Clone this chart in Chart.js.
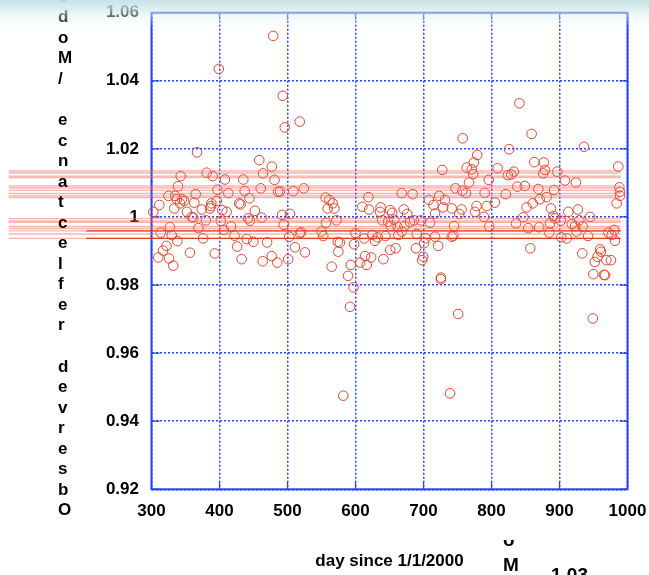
<!DOCTYPE html>
<html>
<head>
<meta charset="utf-8">
<script src="https://cdn.jsdelivr.net/npm/chart.js@4.4.1/dist/chart.umd.min.js"></script>
<style>
  html, body { margin: 0; padding: 0; background: #fff; }
  #wrap { position: relative; width: 649px; height: 575px; overflow: hidden;
          font-family: "Liberation Sans", Arial, sans-serif; font-weight: bold; color: #000; }
  #ratioChart { position: absolute; left: 0; top: 0; }
  #yTitle { position: absolute; left: 58px; top: -13.3px; font-size: 17px; line-height: 20.54px; white-space: pre; }
  #nextTitle { position: absolute; left: 503px; top: 540px; width: 30px; height: 40px; overflow: hidden; }
  #nextTitle div { position: absolute; left: 0; top: -12.8px; font-size: 19px; line-height: 25px; white-space: pre; }
  #nextTick { position: absolute; left: 540px; top: 565.3px; width: 48px; text-align: right; font-size: 19px; line-height: 20px; }
  #topShade { position: absolute; left: 0; top: 0; width: 649px; height: 28px; pointer-events: none;
              background: linear-gradient(to bottom, rgba(196,226,228,0.95) 0px, rgba(205,232,233,0.75) 8px,
                                          rgba(225,241,242,0.45) 16px, rgba(255,255,255,0) 28px); }
</style>
</head>
<body>
<div id="wrap">
  <canvas id="ratioChart" width="649" height="575"></canvas>
  <div id="yTitle"></div>
  <div id="nextTitle"><div></div></div>
  <div id="nextTick"></div>
  <div id="topShade"></div>
</div>
<script>
// axis ticks
const xTicks = [300, 400, 500, 600, 700, 800, 900, 1000];
const xTickLabels = ["300", "400", "500", "600", "700", "800", "900", "1000"];
const yTicks = [0.92, 0.94, 0.96, 0.98, 1.00, 1.02, 1.04, 1.06];
const yTickLabels = ["0.92", "0.94", "0.96", "0.98", "1", "1.02", "1.04", "1.06"];

const xTitle = "day since 1/1/2000";
const yTitleLetters = "edoM/ ecnatcelfer devresbO".split("");
const nextTitleLetters = ["o", "M"];
const nextTickLabel = "1.03";

const days = [
  367, 381, 390, 408, 435, 343, 339, 397, 413, 437, 365, 325, 334.6, 337, 345, 348, 342, 363, 396, 429,
  431, 311.5, 388, 387.5, 333.5, 374, 386, 352, 404, 410.5, 302.7, 359, 361.5, 380, 402, 327, 369, 406.6, 417, 313.5,
  329.7, 376, 422, 338, 322, 317, 310, 326, 332, 356.6, 393, 426, 432.6,
  496, 518, 458.5, 477, 464, 481, 460.6, 486, 489, 508.5, 524, 444, 556, 561.5, 566.5, 559,
  569, 452, 442, 444.8, 462, 492, 503.7, 494.5, 556.6, 572, 518, 520, 550, 552.6, 502.6, 440, 449.7, 470, 511, 525.7,
  476.7, 463.5, 485, 501, 565, 574.7, 574, 479, 399, 493,
  619, 668, 684, 708, 610, 620, 637, 636, 651, 654, 671, 676, 639.5, 648, 657, 686, 696, 709.6, 680, 652,
  662, 672, 600, 624.7, 632.6, 644, 663, 668, 690, 628.7, 613, 703, 577, 598, 651, 659, 689, 701, 623, 614,
  607, 616.5, 641, 699.6, 698, 593, 589, 597, 592, 714.6, 582,
  757.6, 826, 859, 779, 774, 763.5, 771, 773, 727.6, 809, 824, 829, 833, 767, 796, 838, 849, 747, 757, 762.5,
  790, 821, 723, 731.6, 805, 729, 741.5, 756, 778, 793, 775.7, 752.6, 717, 789, 851.6, 846.8, 836, 745, 796.8, 854,
  717, 741.5, 744, 721.6, 857, 725.6, 725.6, 751, 841, 739,
  936, 863, 877, 878.7, 876, 896.7, 986.5, 908, 924, 869, 892, 988, 989, 989, 984, 860.6, 871, 881, 887.5, 913,
  927, 891, 893.4, 901.8, 929, 945, 886, 918, 923, 934, 870, 885, 925, 942, 971.8, 980.6, 976.7, 981.6, 902.6, 910.6,
  933.5, 959.6, 961, 956, 952, 969, 975.7, 949.7, 965.4, 967, 949
];
const ratios = [
  1.019, 1.013, 1.012, 1.011, 1.011, 1.012, 1.009, 1.008, 1.007, 1.0076, 1.0067, 1.0062, 1.0062, 1.0052, 1.0052, 1.0047, 1.004, 1.0042, 1.0047, 1.004,
  1.0037, 1.0035, 1.004, 1.0032, 1.0025, 1.0022, 1.0025, 1.0015, 1.002, 1.0015, 1.0015, 1.0, 0.9998, 0.999, 0.9988, 0.997, 0.9967, 0.9962, 0.9972, 0.9954,
  0.9947, 0.9937, 0.9945, 0.9929, 0.9915, 0.9901, 0.9881, 0.9878, 0.9857, 0.9895, 0.9893, 0.9913, 0.9876,
  1.0263, 1.028, 1.0167, 1.0148, 1.0128, 1.0109, 1.0084, 1.0074, 1.0075, 1.0076, 1.0084, 1.0055, 1.0057, 1.005, 1.004, 1.0025,
  1.0025, 1.0018, 0.9996, 0.9989, 0.9998, 1.0006, 1.0009, 0.9977, 0.9983, 0.999, 0.9952, 0.9955, 0.9957, 0.9944, 0.9942, 0.9935, 0.9927, 0.9925, 0.9911, 0.9896,
  0.9885, 0.987, 0.9866, 0.9876, 0.9854, 0.9898, 0.9927, 1.0532, 1.0435, 1.0356,
  1.0058, 1.007, 1.0067, 1.005, 1.003, 1.0022, 1.0028, 1.0015, 1.002, 1.0012, 1.0022, 1.0009, 0.999, 0.9986, 0.9992, 0.999, 0.999, 0.9983, 0.9985, 0.9973,
  0.997, 0.9973, 0.9953, 0.9947, 0.994, 0.9944, 0.9947, 0.9957, 0.995, 0.993, 0.9937, 0.9937, 0.9924, 0.992, 0.9903, 0.9908, 0.9908, 0.9923, 0.9881, 0.9885,
  0.9866, 0.9859, 0.9876, 0.9883, 0.9873, 0.9859, 0.9827, 0.9793, 0.9736, 1.0035, 0.9475,
  1.0231, 1.0199, 1.0244, 1.0182, 1.016, 1.0145, 1.014, 1.0126, 1.0138, 1.0143, 1.0123, 1.0125, 1.0133, 1.0101, 1.0109, 1.0089, 1.0091, 1.0084, 1.0077, 1.007,
  1.0071, 1.0067, 1.0062, 1.005, 1.0042, 1.0028, 1.0025, 1.0022, 1.0032, 1.0032, 1.0015, 1.0009, 1.001, 1.0, 1.0028, 0.9999, 0.9981, 0.9973, 0.9972, 0.9967,
  0.9942, 0.9942, 0.9945, 0.9915, 0.9908, 0.9822, 0.9817, 0.9715, 1.0334, 0.9482,
  1.0206, 1.0161, 1.016, 1.0138, 1.0128, 1.0133, 1.0148, 1.0107, 1.0101, 1.0082, 1.0079, 1.0087, 1.0074, 1.0062, 1.004, 1.004, 1.0052, 1.0058, 1.0025, 1.0015,
  1.0022, 1.0003, 0.9996, 0.9989, 0.999, 1.0, 0.9981, 0.9979, 0.9973, 0.9972, 0.997, 0.9954, 0.9957, 0.9944, 0.9954, 0.9962, 0.9947, 0.993, 0.994, 0.9937,
  0.9893, 0.9905, 0.9898, 0.9883, 0.9868, 0.9873, 0.9873, 0.9832, 0.983, 0.9829, 0.9702
];

// horizontal reference lines
const faintLevels = [1.0135, 1.0129, 1.012, 1.0116, 1.0091, 1.0085, 1.0078, 1.0069, 1.0062, 1.0057,
                     0.9995, 0.9988, 0.9984, 0.9972, 0.9966, 0.9959, 0.995, 0.9937];
const faintStart = 90;
const faintEnd = 990;
const strongLevels = [0.9959, 0.9937];
const strongStart = 204;
const strongEnd = 990;

const fontSpec = { family: "'Liberation Sans', Arial, sans-serif", size: 17, weight: "bold" };
const gridBlue = "#2244f5";

document.getElementById("yTitle").textContent = yTitleLetters.join("\n");
document.querySelector("#nextTitle div").textContent = nextTitleLetters.join("\n");
document.getElementById("nextTick").textContent = nextTickLabel;

const lineSets = [];
faintLevels.forEach(v => {
  lineSets.push({
    type: "line",
    data: [{ x: faintStart, y: v }, { x: faintEnd, y: v }],
    borderColor: "rgba(238,110,95,0.5)",
    borderWidth: 1.4,
    pointRadius: 0,
    clip: false,
    order: 1
  });
});
strongLevels.forEach(v => {
  lineSets.push({
    type: "line",
    data: [{ x: strongStart, y: v }, { x: strongEnd, y: v }],
    borderColor: "#e23c1e",
    borderWidth: 1.4,
    pointRadius: 0,
    clip: false,
    order: 0
  });
});

const framePlugin = {
  id: "frame",
  beforeDatasetsDraw(chart) {
    const { ctx, chartArea: a, scales: { x, y } } = chart;
    ctx.save();
    ctx.strokeStyle = gridBlue;
    ctx.lineWidth = 2;
    ctx.strokeRect(a.left, a.top, a.right - a.left, a.bottom - a.top);
    ctx.lineWidth = 1.2;
    ctx.beginPath();
    xTicks.forEach(v => {
      const px = x.getPixelForValue(v);
      ctx.moveTo(px, a.bottom); ctx.lineTo(px, a.bottom - 7);
      ctx.moveTo(px, a.top); ctx.lineTo(px, a.top + 7);
    });
    yTicks.forEach(v => {
      const py = y.getPixelForValue(v);
      ctx.moveTo(a.left, py); ctx.lineTo(a.left + 8, py);
      ctx.moveTo(a.right, py); ctx.lineTo(a.right - 8, py);
    });
    ctx.stroke();
    ctx.restore();
  }
};

const ctx = document.getElementById("ratioChart").getContext("2d");
new Chart(ctx, {
  type: "scatter",
  data: {
    datasets: lineSets.concat([{
      data: days.map((d, i) => ({ x: d, y: ratios[i] })),
      pointStyle: "circle",
      pointRadius: 4.8,
      pointBorderWidth: 1,
      pointBackgroundColor: "rgba(0,0,0,0)",
      pointBorderColor: "#e8452c",
      clip: false,
      order: 2
    }])
  },
  options: {
    responsive: false,
    animation: false,
    layout: { padding: { top: 12.7, right: 21.5, left: 0, bottom: 0 } },
    plugins: { legend: { display: false }, tooltip: { enabled: false } },
    scales: {
      x: {
        type: "linear",
        min: 300,
        max: 1000,
        afterFit: s => { s.height = 85.7; s.paddingLeft = 0; s.paddingRight = 0; },
        afterBuildTicks: s => { s.ticks = xTicks.map(v => ({ value: v })); },
        ticks: {
          callback: (v, i) => xTickLabels[i],
          font: fontSpec,
          color: "#000",
          padding: 12,
          maxRotation: 0,
          autoSkip: false
        },
        grid: { color: gridBlue, lineWidth: 1.5, drawTicks: false },
        border: { display: false, dash: [2, 2] },
        title: { display: true, text: xTitle, font: fontSpec, color: "#000", padding: { top: 0, bottom: 3 } }
      },
      y: {
        type: "linear",
        min: 0.92,
        max: 1.06,
        afterFit: s => { s.width = 151.5; s.paddingTop = 0; s.paddingBottom = 0; },
        afterBuildTicks: s => { s.ticks = yTicks.map(v => ({ value: v })); },
        ticks: {
          callback: (v, i) => yTickLabels[i],
          font: fontSpec,
          color: "#000",
          padding: 12.5,
          autoSkip: false
        },
        grid: { color: gridBlue, lineWidth: 1.5, drawTicks: false },
        border: { display: false, dash: [2, 2] }
      }
    }
  },
  plugins: [framePlugin]
});
</script>
</body>
</html>
